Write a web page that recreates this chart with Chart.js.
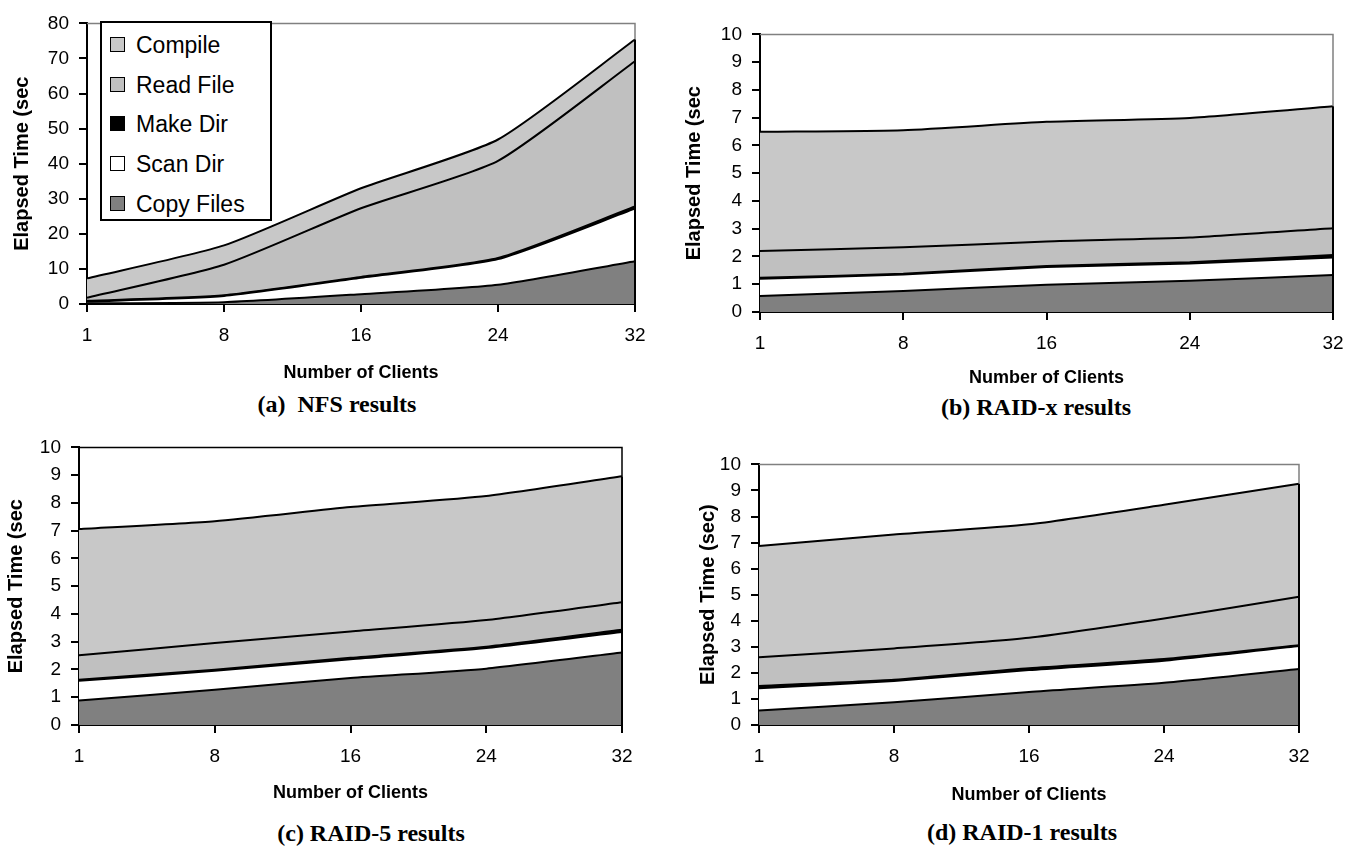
<!DOCTYPE html>
<html>
<head>
<meta charset="utf-8">
<script src="https://cdn.jsdelivr.net/npm/chart.js@4.4.1/dist/chart.umd.min.js"></script>
<style>
  body { margin: 0; background: #fff; width: 1355px; height: 848px; position: relative; overflow: hidden;
         font-family: "Liberation Sans", Arial, sans-serif; }
  canvas { position: absolute; }
  .caption { position: absolute; transform: translate(-50%, -50%); white-space: pre;
             font: bold 24px "Liberation Serif", "Times New Roman", serif; color: #000; }
  #legend { position: absolute; left: 100px; top: 21px; width: 168px; height: 196px;
            border: 2px solid #000; background: #fff; }
  .row { position: absolute; left: 8px; height: 26px; line-height: 26px; font-size: 23px; color: #000; white-space: nowrap; }
  .sw { position: absolute; left: 0; top: 5px; width: 13px; height: 13px; border: 1.5px solid #000; }
  .row span.t { position: absolute; left: 26px; top: 0; }
</style>
</head>
<body>
<div id="legend"></div>
<script>
// x categories (number of clients)
const clients = ['1', '8', '16', '24', '32'];
// stacked from bottom to top
const seriesNames = ['Copy Files', 'Scan Dir', 'Make Dir', 'Read File', 'Compile'];
const seriesColors = ['#808080', '#ffffff', '#000000', '#c0c0c0', '#c8c8c8'];

// (a) NFS, seconds per phase
const nfsCopy    = [0.2, 0.5, 2.8, 5.5, 12.2];
const nfsScan    = [0.5, 1.8, 4.7, 7.3, 15.0];
const nfsMake    = [0.2, 0.2, 0.2, 0.3, 0.6];
const nfsRead    = [0.9, 8.7, 19.6, 27.7, 41.4];
const nfsCompile = [5.5, 5.5, 5.7, 6.1, 6.2];

// (b) RAID-x
const rxCopy    = [0.58, 0.76, 0.98, 1.13, 1.33];
const rxScan    = [0.62, 0.59, 0.64, 0.62, 0.63];
const rxMake    = [0.03, 0.03, 0.04, 0.04, 0.09];
const rxRead    = [0.97, 0.95, 0.88, 0.89, 0.97];
const rxCompile = [4.29, 4.22, 4.31, 4.31, 4.39];

// (c) RAID-5
const r5Copy    = [0.88, 1.27, 1.69, 2.03, 2.61];
const r5Scan    = [0.71, 0.68, 0.68, 0.74, 0.74];
const r5Make    = [0.04, 0.04, 0.05, 0.05, 0.08];
const r5Read    = [0.88, 0.96, 0.95, 0.96, 0.99];
const r5Compile = [4.55, 4.39, 4.48, 4.47, 4.54];

// (d) RAID-1
const r1Copy    = [0.56, 0.87, 1.27, 1.62, 2.15];
const r1Scan    = [0.85, 0.82, 0.84, 0.85, 0.88];
const r1Make    = [0.09, 0.05, 0.07, 0.06, 0.03];
const r1Read    = [1.10, 1.20, 1.17, 1.56, 1.86];
const r1Compile = [4.27, 4.37, 4.35, 4.36, 4.34];

const FONT = '"Liberation Sans", Arial, sans-serif';

// gray frame on top/right of the plot, black edge where the areas end
const framePlugin = {
    id: 'frame',
    afterDatasetsDraw(chart, args, opts) {
        const { ctx, chartArea: a } = chart;
        const meta = chart.getDatasetMeta(chart.data.datasets.length - 1);
        const yTop = meta.data[meta.data.length - 1].y;
        ctx.save();
        ctx.lineWidth = 1.5;
        ctx.strokeStyle = opts.color;
        ctx.beginPath();
        ctx.moveTo(a.left, a.top);
        ctx.lineTo(a.right, a.top);
        ctx.lineTo(a.right, yTop);
        ctx.stroke();
        ctx.lineWidth = 2;
        ctx.strokeStyle = '#000';
        ctx.beginPath();
        ctx.moveTo(a.right, yTop);
        ctx.lineTo(a.right, a.bottom);
        ctx.stroke();
        ctx.restore();
    }
};

function makePanel(p) {
    const left = p.yTitleX - 12;
    const top = p.plotTop - 15;
    const W = p.plotRight + 25 - left;
    const H = Math.round(p.xTitleY + 11 - top);
    const canvas = document.createElement('canvas');
    canvas.width = W; canvas.height = H;
    canvas.style.left = left + 'px';
    canvas.style.top = top + 'px';
    document.body.appendChild(canvas);

    const axisGrid = { drawOnChartArea: false, drawTicks: true, tickLength: 8, color: '#000', lineWidth: 2 };

    new Chart(canvas, {
        type: 'line',
        data: {
            labels: clients,
            datasets: p.series.map((vals, i) => ({
                label: seriesNames[i],
                data: vals,
                backgroundColor: seriesColors[i],
                borderColor: '#000',
                borderWidth: 2,
                pointRadius: 0,
                tension: 0.2,
                fill: i === 0 ? 'origin' : '-1'
            }))
        },
        options: {
            responsive: false,
            animation: false,
            events: [],
            layout: { padding: { top: 15, right: 25, left: 0, bottom: 0 }, autoPadding: false },
            plugins: { legend: { display: false }, tooltip: { enabled: false }, frame: { color: p.frameColor } },
            scales: {
                x: {
                    offset: false, z: 1,
                    border: { color: '#000', width: 2 },
                    grid: axisGrid,
                    ticks: { color: '#000', font: { family: FONT, size: 19 }, padding: 12, maxRotation: 0, autoSkip: false },
                    title: { display: true, text: 'Number of Clients', color: '#000', padding: 0,
                             font: { family: FONT, size: 18, weight: 'bold' } },
                    afterFit: s => { s.height = H - (p.plotBottom - top); }
                },
                y: {
                    stacked: true, min: 0, max: p.yMax, z: 1,
                    border: { color: '#000', width: 2 },
                    grid: axisGrid,
                    ticks: { stepSize: p.yStep, color: '#000', font: { family: FONT, size: 19 }, padding: 10 },
                    title: { display: true, text: p.yTitle, color: '#000', padding: 0,
                             font: { family: FONT, size: 20, weight: 'bold' } },
                    afterFit: s => { s.width = p.plotLeft - left; }
                }
            }
        },
        plugins: [framePlugin]
    });

    const cap = document.createElement('div');
    cap.className = 'caption';
    cap.textContent = p.caption;
    cap.style.left = p.capX + 'px';
    cap.style.top = p.capY + 'px';
    document.body.appendChild(cap);
}

makePanel({ series: [nfsCopy, nfsScan, nfsMake, nfsRead, nfsCompile], yMax: 80, yStep: 10,
    yTitle: 'Elapsed Time (sec', caption: '(a)  NFS results', frameColor: '#808080',
    plotLeft: 87, plotRight: 635, plotTop: 17, plotBottom: 304, yTitleX: 22, xTitleY: 373, capX: 337, capY: 404 });
makePanel({ series: [rxCopy, rxScan, rxMake, rxRead, rxCompile], yMax: 10, yStep: 1,
    yTitle: 'Elapsed Time (sec', caption: '(b) RAID-x results', frameColor: '#808080',
    plotLeft: 760, plotRight: 1333, plotTop: 28, plotBottom: 312, yTitleX: 694, xTitleY: 378, capX: 1036, capY: 407 });
makePanel({ series: [r5Copy, r5Scan, r5Make, r5Read, r5Compile], yMax: 10, yStep: 1,
    yTitle: 'Elapsed Time (sec', caption: '(c) RAID-5 results', frameColor: '#000000',
    plotLeft: 79, plotRight: 622, plotTop: 441, plotBottom: 725, yTitleX: 16, xTitleY: 793, capX: 371, capY: 833 });
makePanel({ series: [r1Copy, r1Scan, r1Make, r1Read, r1Compile], yMax: 10, yStep: 1,
    yTitle: 'Elapsed Time (sec)', caption: '(d) RAID-1 results', frameColor: '#808080',
    plotLeft: 759, plotRight: 1299, plotTop: 458, plotBottom: 725, yTitleX: 708, xTitleY: 795, capX: 1022, capY: 832 });

// legend for panel (a), top series first
const legend = document.getElementById('legend');
document.body.appendChild(legend);
seriesNames.slice().reverse().forEach((name, k) => {
    const i = seriesNames.length - 1 - k;
    const row = document.createElement('div');
    row.className = 'row';
    row.style.top = (9 + k * 39.7) + 'px';
    row.innerHTML = '<div class="sw" style="background:' + seriesColors[i] + '"></div><span class="t">' + name + '</span>';
    legend.appendChild(row);
});
</script>
</body>
</html>
